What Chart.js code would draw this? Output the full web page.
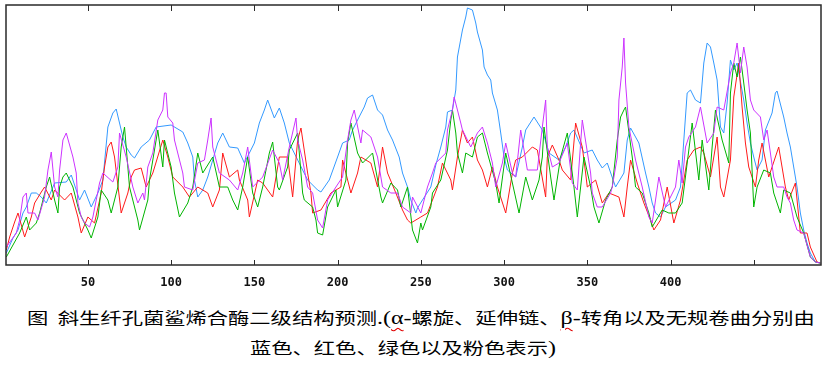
<!DOCTYPE html>
<html>
<head>
<meta charset="utf-8">
<script src="https://cdn.jsdelivr.net/npm/chart.js@4/dist/chart.umd.min.js"></script>
<style>
body { margin: 0; background: #fff; }
#wrap { position: relative; width: 825px; height: 368px; overflow: hidden; }
#mycanvas { position: absolute; left: 0; top: 0; }
.cap { position: absolute; white-space: nowrap; font-family: "Noto Sans CJK SC"; font-size: 16px; line-height: 20px; color: #000; transform-origin: 0 0; transform: scaleX(1.33); }
.lat { font-family: "Liberation Serif"; font-size: 18px; }
.wavy { text-decoration: underline wavy #e00000; text-decoration-thickness: 1px; text-underline-offset: 3px; }
</style>
</head>
<body>
<div id="wrap">
	<canvas id="mycanvas" width="825" height="300"></canvas>
	<div class="cap" style="left:27px; top:307px;">图&nbsp;&nbsp;斜生纤孔菌鲨烯合酶二级结构预测<span class="lat">.(<span class="wavy">α</span>-</span>螺旋、延伸链、<span class="lat"><span class="wavy">β</span>-</span>转角以及无规卷曲分别由</div>
	<div class="cap" style="left:250px; top:337px;">蓝色、红色、绿色以及粉色表示<span class="lat">)</span></div>
</div>
<script>
// residue number, score
var helix = [[1,12],[5,27],[8,35],[11,52],[13,58],[16,72],[19,72],[22,68],[25,62],[30,82],[37,83],[40,90],[45,65],[48,75],[52,58],[56,72],[59,85],[62,138],[65,152],[67,156],[71,128],[73,118],[76,110],[78,107],[82,118],[87,125],[91,138],[100,140],[107,133],[110,122],[113,108],[114,85],[116,68],[119,75],[122,88],[125,105],[128,122],[131,132],[135,118],[140,117],[144,102],[150,122],[153,142],[156,155],[158,165],[162,147],[165,157],[168,142],[171,122],[179,95],[182,85],[188,75],[190,73],[195,85],[200,108],[203,122],[207,125],[209,135],[212,145],[216,158],[218,167],[221,170],[224,155],[227,150],[230,135],[233,125],[237,108],[239,92],[242,78],[244,65],[247,52],[248,57],[251,65],[256,78],[259,100],[262,118],[265,138],[266,153],[269,155],[271,175],[272,208],[275,235],[277,248],[278,257],[281,255],[283,242],[284,233],[287,215],[288,198],[290,190],[292,185],[293,172],[296,155],[298,132],[300,108],[302,95],[307,88],[311,118],[313,135],[318,148],[323,135],[327,112],[333,105],[337,118],[340,132],[342,135],[348,112],[353,115],[356,105],[359,97],[362,102],[367,78],[372,92],[374,125],[376,137],[381,122],[385,92],[387,78],[389,62],[391,52],[394,48],[397,58],[403,65],[406,78],[408,125],[410,172],[412,175],[415,165],[418,162],[420,202],[422,222],[424,218],[426,202],[428,185],[430,138],[432,132],[434,162],[436,205],[438,195],[440,202],[444,165],[446,142],[448,122],[450,108],[452,95],[455,105],[457,135],[461,152],[463,172],[464,174],[468,148],[470,132],[472,118],[474,98],[476,78],[478,52],[480,35],[482,22],[484,12],[487,3],[490,2]];

var strand = [[1,15],[3,28],[6,43],[8,52],[12,28],[16,48],[18,62],[22,73],[24,78],[28,65],[30,75],[36,65],[40,72],[44,48],[46,32],[50,48],[54,42],[58,72],[60,98],[62,118],[64,123],[66,108],[70,52],[74,72],[76,88],[78,95],[82,97],[85,78],[89,92],[95,125],[98,108],[101,88],[107,78],[111,68],[116,78],[122,72],[125,58],[129,75],[131,112],[135,88],[140,95],[141,85],[146,65],[147,48],[152,85],[155,82],[161,68],[165,108],[170,108],[173,68],[176,125],[178,137],[182,92],[184,72],[185,52],[190,55],[196,72],[202,78],[203,105],[208,72],[212,92],[214,108],[220,102],[224,78],[227,118],[230,92],[235,72],[239,55],[242,45],[244,42],[250,48],[254,52],[257,65],[260,78],[263,102],[268,85],[269,75],[272,108],[275,135],[278,122],[281,128],[284,105],[287,95],[290,78],[293,98],[296,78],[301,52],[305,92],[307,105],[311,108],[317,118],[320,115],[325,68],[326,108],[329,120],[333,105],[335,95],[340,85],[343,142],[347,118],[349,92],[350,78],[355,85],[359,62],[363,72],[369,68],[372,48],[374,78],[376,105],[380,82],[384,62],[388,45],[390,35],[394,45],[398,78],[402,42],[406,65],[410,105],[414,115],[418,118],[420,112],[424,88],[428,128],[430,78],[432,68],[436,105],[438,168],[441,202],[443,158],[445,122],[447,98],[451,78],[453,105],[455,122],[459,88],[463,108],[465,118],[469,78],[471,65],[475,82],[478,32],[482,32],[484,18],[488,3],[490,2]];

var turn = [[1,8],[4,17],[9,32],[13,48],[15,35],[19,42],[21,52],[25,78],[27,88],[30,65],[32,52],[33,78],[35,88],[37,92],[41,78],[45,52],[50,35],[52,27],[56,48],[58,75],[62,65],[64,52],[68,78],[70,118],[72,138],[75,78],[80,45],[81,35],[86,65],[87,85],[89,105],[92,135],[95,98],[96,125],[100,98],[102,72],[105,48],[110,62],[113,78],[116,112],[119,92],[125,108],[129,78],[134,78],[137,65],[140,55],[143,78],[146,108],[149,72],[152,58],[155,78],[159,112],[161,123],[164,78],[165,75],[170,98],[171,115],[176,132],[179,72],[180,65],[185,58],[187,45],[188,32],[191,30],[194,58],[199,75],[200,58],[205,85],[206,122],[208,142],[212,112],[215,102],[221,112],[226,68],[227,62],[232,82],[236,75],[238,58],[242,78],[245,35],[248,22],[250,42],[251,35],[256,58],[257,72],[262,85],[266,115],[268,145],[269,155],[271,132],[272,112],[275,92],[277,112],[281,108],[284,128],[287,132],[290,112],[295,82],[297,62],[301,112],[305,82],[309,52],[313,88],[317,65],[321,85],[323,108],[324,138],[328,88],[330,65],[334,108],[338,132],[342,78],[344,48],[348,108],[352,78],[354,58],[357,42],[361,65],[365,78],[368,125],[370,148],[372,155],[373,158],[377,108],[379,78],[383,72],[387,52],[389,38],[395,55],[399,52],[403,52],[407,62],[411,115],[413,142],[417,85],[419,125],[423,75],[425,118],[427,155],[431,125],[435,102],[436,172],[438,202],[440,188],[442,208],[444,182],[446,155],[448,132],[450,58],[452,78],[456,95],[460,92],[462,72],[466,52],[468,75],[472,72],[476,48],[480,32],[484,8],[487,3],[490,2]];

var coil = [[1,18],[7,32],[9,45],[11,68],[13,72],[14,52],[18,52],[20,45],[24,68],[26,95],[28,113],[30,78],[32,68],[33,95],[35,125],[37,132],[41,108],[43,92],[44,62],[46,48],[48,42],[51,38],[53,48],[57,82],[59,92],[65,83],[68,98],[69,132],[73,108],[77,78],[80,62],[83,72],[84,65],[86,98],[89,112],[92,145],[95,155],[96,172],[97,172],[98,148],[101,142],[102,125],[107,92],[108,78],[113,75],[116,102],[120,105],[122,125],[124,147],[125,118],[129,92],[135,85],[140,75],[143,92],[146,118],[149,78],[155,88],[161,115],[165,102],[167,85],[171,118],[175,147],[176,125],[179,105],[182,78],[185,72],[188,45],[191,37],[194,65],[199,78],[203,88],[206,125],[208,145],[210,155],[214,122],[215,135],[220,128],[224,108],[227,78],[232,72],[236,72],[239,58],[244,52],[245,68],[250,52],[254,78],[257,92],[259,102],[265,112],[266,135],[269,155],[270,168],[274,142],[275,135],[278,125],[280,118],[284,132],[287,138],[290,122],[293,102],[295,78],[299,102],[301,122],[305,92],[307,88],[310,135],[314,95],[320,95],[323,138],[325,165],[326,118],[329,98],[333,102],[338,122],[341,82],[344,75],[347,145],[352,92],[353,72],[356,58],[359,58],[364,72],[365,78],[368,108],[369,165],[371,198],[372,227],[373,182],[375,138],[379,105],[383,78],[387,48],[389,42],[393,88],[397,58],[403,78],[405,105],[407,82],[409,118],[411,128],[415,138],[418,158],[422,122],[426,132],[428,158],[432,155],[436,192],[438,202],[440,222],[442,192],[444,218],[446,198],[448,165],[450,155],[454,148],[456,125],[458,135],[460,112],[462,88],[464,78],[468,78],[470,68],[472,62],[474,45],[476,35],[480,32],[484,8],[487,3],[490,2]];

var tickValues = [50, 100, 150, 200, 250, 300, 350, 400, 450];
var tickLabels = ['50', '100', '150', '200', '250', '300', '350', '400', ''];

function toPoints(arr) {
	var out = [];
	for (var i in arr) {
		out.push({x: arr[i][0], y: arr[i][1]});
	}
	return out;
}

var frame = {
	id: 'frame',
	afterDatasetsDraw: function(chart) {
		var a = chart.chartArea;
		var ctx = chart.ctx;
		var xs = chart.scales.x;
		ctx.save();
		ctx.strokeStyle = '#2a2a2a';
		ctx.lineWidth = 1.5;
		ctx.strokeRect(a.left, a.top, a.right - a.left, a.bottom - a.top);
		ctx.lineWidth = 1;
		ctx.beginPath();
		for (var i in tickValues) {
			var px = Math.round(xs.getPixelForValue(tickValues[i])) + 0.5;
			ctx.moveTo(px, a.bottom);
			ctx.lineTo(px, a.bottom - 5);
			ctx.moveTo(px, a.top);
			ctx.lineTo(px, a.top + 6);
		}
		ctx.stroke();
		ctx.restore();
	}
};

var chartdata = {
	datasets: [
		{ label: 'helix', data: toPoints(helix), borderColor: '#3399ff', order: 4 },
		{ label: 'strand', data: toPoints(strand), borderColor: '#ff1a1a', order: 3 },
		{ label: 'turn', data: toPoints(turn), borderColor: '#00b400', order: 2 },
		{ label: 'coil', data: toPoints(coil), borderColor: '#cc33ff', order: 1 }
	]
};
for (var d in chartdata.datasets) {
	chartdata.datasets[d].borderWidth = 1;
	chartdata.datasets[d].pointRadius = 0;
	chartdata.datasets[d].tension = 0;
	chartdata.datasets[d].fill = false;
}

var ctx = document.getElementById('mycanvas');

var lineGraph = new Chart(ctx, {
	type: 'line',
	data: chartdata,
	plugins: [frame],
	options: {
		responsive: false,
		animation: false,
		layout: { padding: { left: 6, right: 4, top: 5, bottom: 5 } },
		plugins: { legend: { display: false }, tooltip: { enabled: false } },
		scales: {
			x: {
				type: 'linear',
				min: 0.8,
				max: 490.4,
				grid: { display: false, drawTicks: false },
				border: { display: false },
				afterBuildTicks: function(scale) {
					scale.ticks = tickValues.map(function(v) { return {value: v}; });
				},
				afterFit: function(scale) { scale.height = 30; },
				ticks: {
					padding: 11,
					maxRotation: 0,
					autoSkip: false,
					color: '#111',
					font: { family: 'DejaVu Sans Mono', size: 12, weight: 'bold' },
					callback: function(value) { return tickLabels[tickValues.indexOf(value)]; }
				}
			},
			y: {
				display: false,
				min: 0,
				max: 260
			}
		}
	}
});
</script>
</body>
</html>
